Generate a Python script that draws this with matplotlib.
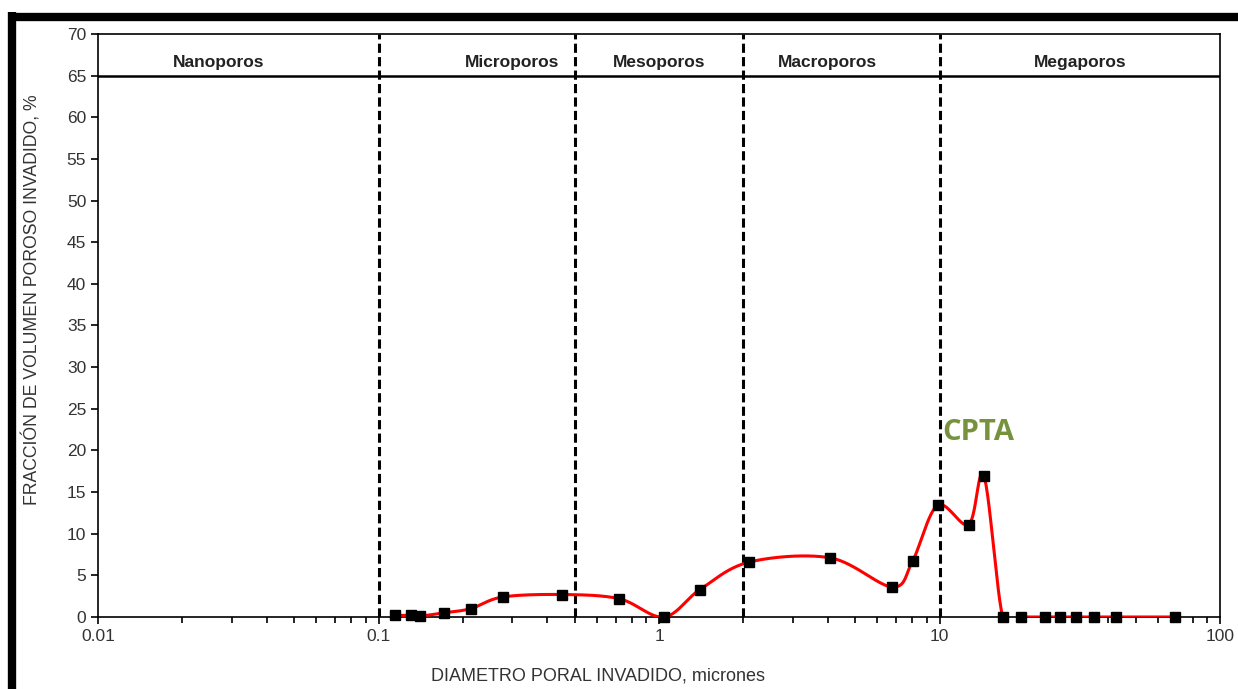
import numpy as np
import matplotlib.pyplot as plt
from matplotlib.lines import Line2D

plt.rcParams['font.family'] = ['Liberation Sans', 'DejaVu Sans']

# Pore throat diameter (microns) and invaded pore-volume fraction (%)
diametro = [0.114, 0.131, 0.140, 0.171, 0.213, 0.277, 0.45, 0.72, 1.04, 1.40,
            2.10, 4.08, 6.79, 8.01, 9.84, 12.7, 14.4, 16.8, 19.5, 23.7,
            26.8, 30.6, 35.5, 42.5, 69.1]
fraccion = [0.2, 0.2, 0.1, 0.5, 1.0, 2.4, 2.7, 2.2, 0.0, 3.3,
            6.6, 7.1, 3.6, 6.7, 13.4, 11.1, 16.9, 0.0, 0.0, 0.0,
            0.0, 0.0, 0.0, 0.0, 0.0]

# pore classes: boundaries and label positions
limites = [0.1, 0.5, 2, 10]
clases = ['Nanoporos', 'Microporos', 'Mesoporos', 'Macroporos', 'Megaporos']
pos_clases = [0.027, 0.3, 1.0, 4.0, 31.6]


def suavizar(x, y, n=40):
    """Excel-style smoothed line: cubic Bezier with Catmull-Rom handles,
    computed in screen-like units (log x)."""
    sx, sy = 280.0, 8.33
    u = np.log10(x) * sx
    v = np.asarray(y) * sy
    P = np.column_stack([u, v])
    P = np.vstack([P[0], P, P[-1]])
    out = []
    t = np.linspace(0, 1, n)[:, None]
    for i in range(1, len(P) - 2):
        p0, p1, p2, p3 = P[i - 1], P[i], P[i + 1], P[i + 2]
        b1 = p1 + (p2 - p0) / 6
        b2 = p2 - (p3 - p1) / 6
        seg = ((1 - t) ** 3) * p1 + 3 * ((1 - t) ** 2) * t * b1 \
            + 3 * (1 - t) * t ** 2 * b2 + t ** 3 * p2
        out.append(seg)
    c = np.vstack(out)
    return 10 ** (c[:, 0] / sx), c[:, 1] / sy


fig = plt.figure(figsize=(12.38, 6.89), dpi=100)
ax = fig.add_axes([0.0792, 0.1045, 0.9063, 0.8462])

ax.set_xscale('log')
ax.set_xlim(0.01, 100)
ax.set_ylim(0, 70)
ax.set_yticks(np.arange(0, 71, 5))
ax.set_xticks([0.01, 0.1, 1, 10, 100])
ax.set_xticklabels(['0.01', '0.1', '1', '10', '100'])

for s in ax.spines.values():
    s.set_linewidth(1.2)
ax.tick_params(axis='both', which='major', direction='out', length=5,
               width=1.2, labelsize=12.5, colors='black', labelcolor='#333333')
ax.tick_params(axis='x', which='minor', direction='out', length=4, width=1.2)

# class divisions
for xv in limites:
    ax.axvline(xv, color='black', lw=2.2, ls=(0, (3.0, 1.4)))
ax.axhline(65, color='black', lw=1.8)
for nombre, xp in zip(clases, pos_clases):
    ax.text(xp, 66.6, nombre, ha='center', va='center', fontsize=12.5,
            fontweight='bold', color='#222222')

xs, ys = suavizar(diametro, fraccion)
ax.plot(xs, ys, color='#ff0000', lw=2.2, zorder=3)
ax.plot(diametro, fraccion, ls='none', marker='s', ms=7.5, color='black',
        zorder=4, clip_on=False)

ax.text(10.25, 22.2, 'CPTA', fontsize=21, fontweight='bold', color='#76923c',
        family=['Open Sans', 'DejaVu Sans'], ha='left', va='center')

ax.set_xlabel('DIAMETRO PORAL INVADIDO, micrones', fontsize=13,
              color='#333333', va='center')
ax.xaxis.set_label_coords(0.4456, -0.101)
ax.set_ylabel('FRACCIÓN DE VOLUMEN POROSO INVADIDO, %', fontsize=12.7,
              color='#333333', va='center')
ax.yaxis.set_label_coords(-0.0588, 0.544)

# heavy black frame around the chart
fig.add_artist(Line2D([8 / 1238, 1], [1 - 16.5 / 689, 1 - 16.5 / 689],
                      color='black', lw=6, solid_capstyle='butt'))
fig.add_artist(Line2D([12 / 1238, 12 / 1238], [0, 1 - 12 / 689],
                      color='black', lw=6, solid_capstyle='butt'))

fig.savefig('out.png', dpi=100)
